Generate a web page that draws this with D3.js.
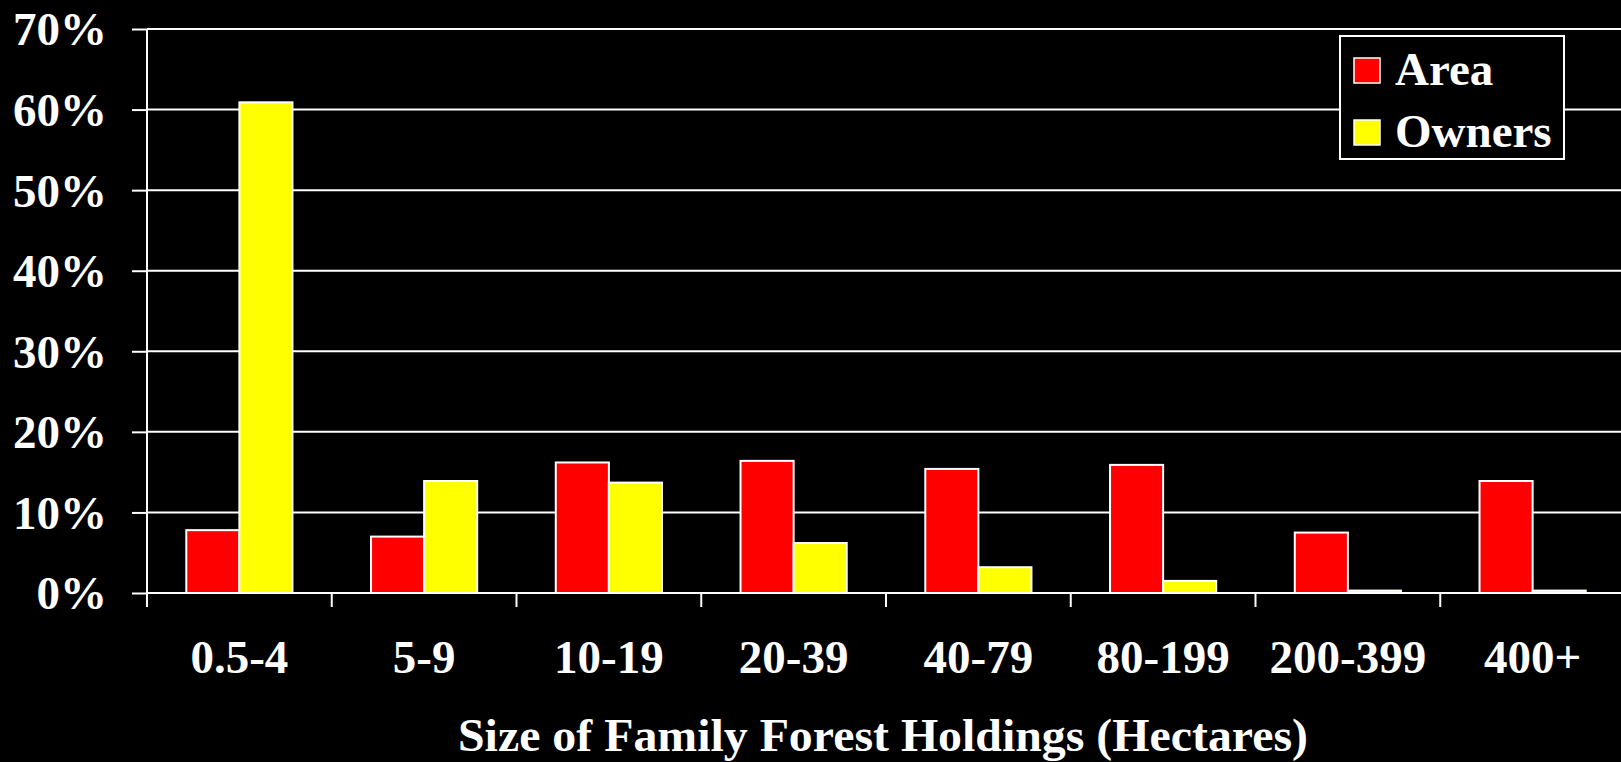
<!DOCTYPE html>
<html>
<head>
<meta charset="utf-8">
<script src="https://cdn.jsdelivr.net/npm/d3@7"></script>
<style>
  body { margin: 0; background: #000; overflow: hidden; }
  svg { display: block; font-family: "Liberation Serif", "Times New Roman", serif; font-weight: bold; }
</style>
</head>
<body>
<div id="chart"></div>
<script>
// values (percent)
const categories = ['0.5-4', '5-9', '10-19', '20-39', '40-79', '80-199', '200-399', '400+'];
const areaValues = [7.8, 7.0, 16.2, 16.4, 15.4, 15.9, 7.5, 13.9];
const ownerValues = [60.9, 13.9, 13.7, 6.2, 3.2, 1.5, 0.3, 0.3];
const seriesNames = ['Area', 'Owners'];
const seriesColors = ['#ff0000', '#ffff00'];
const yTicks = [0, 10, 20, 30, 40, 50, 60, 70];

const width = 1621, height = 762;
const margin = {top: 29, right: -4, bottom: 169, left: 147};
const innerW = width - margin.left - margin.right;
const innerH = height - margin.top - margin.bottom;
const fontFamily = '"Liberation Serif", "Times New Roman", serif';

const rows = categories.map((c, i) => ({cat: c, values: [areaValues[i], ownerValues[i]]}));

const svg = d3.select('#chart').append('svg')
    .attr('width', width)
    .attr('height', height);

svg.append('rect').attr('width', width).attr('height', height).attr('fill', '#000');

const chart = svg.append('g')
    .attr('transform', `translate(${margin.left}, ${margin.top})`);

const x = d3.scaleBand()
    .domain(categories)
    .range([0, innerW]);

const x1 = d3.scaleBand()
    .domain(seriesNames)
    .range([0, x.bandwidth()])
    .paddingOuter(0.74);

const y = d3.scaleLinear()
    .domain([0, 70])
    .range([innerH, 0]);

// gridlines
chart.append('g')
    .selectAll('line')
    .data(yTicks)
    .join('line')
        .attr('x1', 0)
        .attr('x2', innerW)
        .attr('y1', d => y(d))
        .attr('y2', d => y(d))
        .attr('stroke', '#fff')
        .attr('stroke-width', 2);

// y axis
const yAxisGroup = chart.append('g')
    .call(d3.axisLeft(y).tickValues(yTicks).tickSize(15).tickPadding(25).tickFormat(d => d + '%'));
yAxisGroup.select('.domain').remove();
yAxisGroup.attr('font-family', null).attr('font-size', null);
yAxisGroup.selectAll('.tick line').attr('stroke', '#fff').attr('stroke-width', 2);
yAxisGroup.selectAll('.tick text')
    .attr('fill', '#fff')
    .style('font-size', '47px')
    .style('font-family', fontFamily)
    .style('font-weight', 'bold')
    .attr('dy', '0.34em');

chart.append('line')
    .attr('x1', 0).attr('x2', 0)
    .attr('y1', 0).attr('y2', innerH + 14)
    .attr('stroke', '#fff').attr('stroke-width', 2);

// bars
const groups = chart.append('g')
    .selectAll('g')
    .data(rows)
    .join('g')
        .attr('transform', d => `translate(${x(d.cat)}, 0)`);

groups.selectAll('rect')
    .data(d => d.values.map((v, i) => ({key: seriesNames[i], value: v, i: i})))
    .join('rect')
        .attr('x', d => x1(d.key))
        .attr('y', d => y(d.value))
        .attr('width', x1.bandwidth())
        .attr('height', d => innerH - y(d.value))
        .attr('fill', d => seriesColors[d.i])
        .attr('stroke', '#fff')
        .attr('stroke-width', 2);

// x axis
const xAxisGroup = chart.append('g')
    .attr('transform', `translate(0, ${innerH})`);
xAxisGroup.append('line')
    .attr('x1', 0).attr('x2', innerW)
    .attr('stroke', '#fff').attr('stroke-width', 2);
xAxisGroup.selectAll('.sep')
    .data(categories)
    .join('line')
        .attr('class', 'sep')
        .attr('x1', d => x(d)).attr('x2', d => x(d))
        .attr('y1', 0).attr('y2', 14)
        .attr('stroke', '#fff').attr('stroke-width', 2);
xAxisGroup.selectAll('.lbl')
    .data(categories)
    .join('text')
        .attr('class', 'lbl')
        .attr('x', d => x(d) + x.bandwidth() / 2)
        .attr('y', 80)
        .attr('text-anchor', 'middle')
        .attr('fill', '#fff')
        .style('font-size', '47px')
        .style('font-family', fontFamily)
        .text(d => d);

// axis title
svg.append('text')
    .attr('x', 883)
    .attr('y', 751)
    .attr('text-anchor', 'middle')
    .attr('fill', '#fff')
    .attr('textLength', 850)
    .attr('lengthAdjust', 'spacingAndGlyphs')
    .style('font-size', '47px')
    .style('font-family', fontFamily)
    .text('Size of Family Forest Holdings (Hectares)');

// legend
const legend = svg.append('g').attr('transform', 'translate(1340, 36)');
legend.append('rect')
    .attr('width', 224).attr('height', 123)
    .attr('fill', '#000')
    .attr('stroke', '#fff').attr('stroke-width', 2);
const items = legend.selectAll('.item')
    .data(seriesNames)
    .join('g')
        .attr('class', 'item')
        .attr('transform', (d, i) => `translate(0, ${i * 62})`);
items.append('rect')
    .attr('x', 14).attr('y', 22)
    .attr('width', 26).attr('height', 25)
    .attr('fill', (d, i) => seriesColors[i])
    .attr('stroke', '#fff').attr('stroke-width', 1.5);
items.append('text')
    .attr('x', 55).attr('y', 49)
    .attr('fill', '#fff')
    .style('font-size', '47px')
    .style('font-family', fontFamily)
    .text(d => d);
</script>
</body>
</html>
